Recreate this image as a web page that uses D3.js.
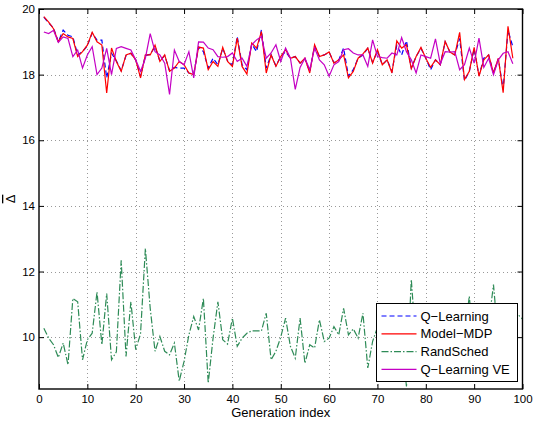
<!DOCTYPE html>
<html>
<head>
<meta charset="utf-8">
<script src="https://cdn.jsdelivr.net/npm/d3@7"></script>
<style>
  body { margin: 0; background: #fff; }
  text { font-family: "Liberation Sans", Arial, Helvetica, sans-serif; fill: #000; }
</style>
</head>
<body>
<svg id="chart"></svg>
<script>
// Chart size and axes box
const width = 533;
const height = 421;
const box = { left: 39, right: 522.5, top: 9, bottom: 389 };

// Values
const xTicks = [0, 10, 20, 30, 40, 50, 60, 70, 80, 90, 100];
const yTicks = [10, 12, 14, 16, 18, 20];
const yDomain = [8.42, 20];

const qLearning = [
  19.75, 19.58, 19.42, 19.0, 19.36, 19.2, 19.15, 18.6, 18.7, 18.88,
  19.27, 19.05, 19.05, 17.9, 18.65, 18.42, 18.12, 18.58, 18.65, 18.45,
  17.95, 18.58, 18.62, 18.85, 18.42, 18.58, 18.12, 18.22, 18.2, 18.2,
  18.05, 18.02, 18.84,
  18.7, 18.2, 18.5, 18.3, 18.8, 18.42, 18.3, 19.16, 18.3, 18.15,
  18.94, 18.7, 19.36, 18.2, 18.6, 18.27, 18.55, 18.7, 18.5, 18.55,
  18.35, 18.48, 18.1, 18.87, 18.55, 18.6, 18.69, 18.36, 18.45, 18.81,
  17.95, 18.15, 18.5,
  18.6, 18.8, 18.37, 18.72, 18.3, 18.45, 18.1, 18.9, 18.6, 19.03,
  18.2, 18.55, 18.8, 18.5, 18.15, 18.45, 18.3, 19.0, 18.68, 18.6,
  19.1, 17.82, 18.1, 18.78, 17.97, 18.5, 18.6, 18.05, 18.48, 17.55,
  19.35, 18.85
];
const modelMdp = [
  19.77, 19.6, 19.4, 19.0, 19.25, 19.15, 19.1, 18.55, 18.7, 18.9,
  19.29, 19.0, 18.9, 17.44, 18.81, 18.4, 18.1, 18.6, 18.65, 18.45,
  17.9, 18.6, 18.6, 18.9, 18.4, 18.6, 18.1, 18.2, 18.4, 18.3,
  18.05, 18.0, 18.84,
  18.81, 18.15, 18.4, 18.25, 18.83, 18.4, 18.25, 19.11, 18.25, 18.02,
  18.96, 18.81, 19.31, 18.05, 18.6, 18.25, 18.55, 18.76, 18.5, 18.55,
  18.35, 18.5, 18.05, 18.91, 18.55, 18.6, 18.69, 18.35, 18.45, 18.6,
  17.9, 18.1, 18.5,
  18.63, 18.81, 18.35, 18.76, 18.3, 18.45, 18.05, 19.03, 18.81, 18.91,
  18.18, 18.55, 18.83, 18.5, 18.22, 18.45, 18.3, 19.01, 18.69, 18.6,
  19.29, 17.85, 18.1, 18.83, 17.95, 18.45, 18.6, 18.05, 18.5, 17.45,
  19.47, 18.5
];
const randSched = [
  10.27, 9.97, 9.77, 9.38, 9.82, 9.16, 11.18, 11.08, 9.31, 9.92,
  10.12, 11.38, 9.77, 11.33, 9.31, 9.55, 12.34, 9.41, 11.08, 9.62,
  10.1, 12.7, 10.88, 9.57, 10.02, 9.57, 9.46, 9.82, 8.66, 9.26,
  10.07, 10.63, 10.22, 11.18, 8.6, 9.97, 11.08, 9.92, 9.79, 10.58,
  9.72, 9.97, 10.12, 10.19, 10.19, 10.19, 10.73, 9.31, 9.57, 10.0,
  10.58, 9.72, 9.36, 10.58, 9.2, 9.77, 9.67, 10.53, 9.87, 9.97,
  10.32, 10.07, 10.88, 10.07, 10.25, 9.97, 10.73, 9.06, 9.87, 10.3,
  9.6, 10.4, 9.5, 10.2, 9.9, 8.5, 11.76, 9.7, 10.4, 9.6,
  10.1, 9.8, 10.5, 9.4, 10.0, 10.3, 9.7, 10.1, 11.25, 9.5,
  10.2, 9.8, 10.4, 11.6, 9.9, 10.1, 9.6, 10.3, 10.7, 10.55
];
const qLearningVE = [
  19.3, 19.25, 19.35, 18.98, 19.15, 19.1, 18.55, 18.75, 18.2, 18.6,
  18.85, 18.0, 18.2, 18.8, 18.0, 18.8, 18.85, 18.8, 18.75, 18.45,
  18.1, 18.5, 19.25, 18.7, 18.6, 18.35, 17.4, 18.75, 18.4, 18.3,
  18.7, 17.9, 19.0,
  18.99, 18.81, 18.76, 18.55, 18.53, 18.55, 18.66, 18.4, 18.5, 18.25,
  18.91, 19.06, 19.16, 18.5, 18.66, 18.91, 18.4, 18.81, 18.5, 17.55,
  18.22, 18.5, 18.15, 18.81, 18.45, 18.3, 17.95, 18.3, 18.4, 18.76,
  18.79, 18.66, 18.6,
  18.6, 18.25, 19.06, 18.55, 18.52, 18.5, 18.66, 18.6, 19.13, 18.7,
  18.45, 18.05, 18.6, 18.55, 18.5, 19.09, 18.33, 18.7, 18.69, 18.7,
  18.15, 18.3, 18.81, 18.35, 19.11, 18.22, 18.5, 18.0, 18.45, 18.65,
  18.7, 18.33
];

const series = [
  { name: "Q\u2212Learning", values: qLearning, color: "#0000ff", dash: "5,3" },
  { name: "Model\u2212MDP", values: modelMdp, color: "#ff0000", dash: null },
  { name: "RandSched", values: randSched, color: "#2e8b57", dash: "7,2,1.5,2" },
  { name: "Q\u2212Learning VE", values: qLearningVE, color: "#c400c4", dash: null }
];

const svg = d3.select("#chart")
    .attr("width", width)
    .attr("height", height);

svg.append("rect").attr("width", width).attr("height", height).attr("fill", "#fff");

const x = d3.scaleLinear().domain([0, 100]).range([box.left, box.right]);
const y = d3.scaleLinear().domain(yDomain).range([box.bottom, box.top]);

// Dotted grid
const grid = svg.append("g").attr("stroke", "#999").attr("stroke-width", 1).attr("stroke-dasharray", "1,3");
grid.selectAll(".gx")
    .data(xTicks.filter(d => d > 0 && d < 100))
    .enter().append("line")
    .attr("x1", d => Math.round(x(d)) + 0.5).attr("x2", d => Math.round(x(d)) + 0.5)
    .attr("y1", box.top).attr("y2", box.bottom);
grid.selectAll(".gy")
    .data(yTicks.filter(d => d < 20))
    .enter().append("line")
    .attr("y1", d => Math.round(y(d)) + 0.5).attr("y2", d => Math.round(y(d)) + 0.5)
    .attr("x1", box.left).attr("x2", box.right);

// Lines
const line = d3.line()
    .x((d, i) => x(i + 1))
    .y(d => y(d));

svg.append("g").selectAll("path")
    .data(series)
    .enter().append("path")
    .attr("d", d => line(d.values))
    .attr("fill", "none")
    .attr("stroke", d => d.color)
    .attr("stroke-width", 1.2)
    .attr("stroke-dasharray", d => d.dash);

// Axes, ticks pointing inward (MATLAB style)
function styleAxis(g) {
    g.select(".domain").remove();
    g.selectAll(".tick line").attr("stroke", "#000");
    g.selectAll(".tick text").attr("font-size", 11.5).attr("fill", "#000")
        .attr("font-family", "'Liberation Sans', Arial, sans-serif");
}

svg.append("g")
    .attr("transform", `translate(0,${box.bottom})`)
    .call(d3.axisBottom(x).tickValues(xTicks).tickSizeInner(-5).tickSizeOuter(0).tickPadding(6))
    .call(styleAxis);
svg.append("g")
    .attr("transform", `translate(0,${box.top})`)
    .call(d3.axisTop(x).tickValues(xTicks).tickSizeInner(-5).tickSizeOuter(0).tickFormat(""))
    .call(styleAxis);
svg.append("g")
    .attr("transform", `translate(${box.left},0)`)
    .call(d3.axisLeft(y).tickValues(yTicks).tickSizeInner(-5).tickSizeOuter(0).tickPadding(4))
    .call(styleAxis);
svg.append("g")
    .attr("transform", `translate(${box.right},0)`)
    .call(d3.axisRight(y).tickValues(yTicks).tickSizeInner(-5).tickSizeOuter(0).tickFormat(""))
    .call(styleAxis);

// Axes box
svg.append("rect")
    .attr("x", box.left).attr("y", box.top)
    .attr("width", box.right - box.left).attr("height", box.bottom - box.top)
    .attr("fill", "none").attr("stroke", "#000").attr("stroke-width", 1.4);

// Axis labels
svg.append("text")
    .attr("x", (box.left + box.right) / 2)
    .attr("y", 417)
    .attr("text-anchor", "middle")
    .attr("font-size", 13)
    .text("Generation index");

svg.append("text")
    .attr("transform", `translate(15,${(box.top + box.bottom) / 2}) rotate(-90)`)
    .attr("text-anchor", "middle")
    .attr("font-size", 13)
    .attr("text-decoration", "overline")
    .text("\u0394");

// Legend
const legend = svg.append("g").attr("transform", "translate(376.5,303.5)");
legend.append("rect")
    .attr("width", 141).attr("height", 78)
    .attr("fill", "#fff").attr("stroke", "#000").attr("stroke-width", 1);

const rows = legend.selectAll(".row")
    .data(series)
    .enter().append("g")
    .attr("transform", (d, i) => `translate(0,${12.5 + i * 17.8})`);
rows.append("line")
    .attr("x1", 5).attr("x2", 40)
    .attr("stroke", d => d.color)
    .attr("stroke-width", 1.2)
    .attr("stroke-dasharray", d => d.dash);
rows.append("text")
    .attr("x", 44)
    .attr("dy", "0.35em")
    .attr("font-size", 13)
    .text(d => d.name);
</script>
</body>
</html>
